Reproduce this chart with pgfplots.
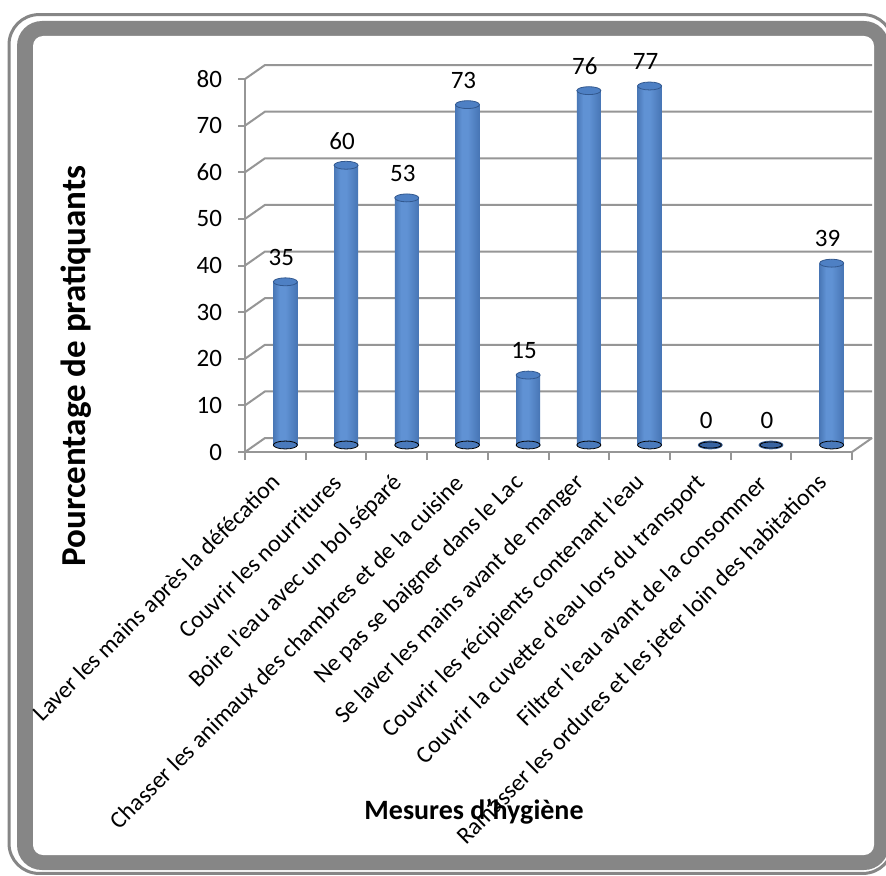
\documentclass[border=0pt]{standalone}
\usepackage{fontspec}
\setmainfont{Carlito}
\usepackage{pgfplots}
\pgfplotsset{compat=1.18}
\definecolor{framegray}{RGB}{134,134,134}
\definecolor{gridgray}{RGB}{150,150,150}
\definecolor{bdark}{RGB}{52,94,154}
\definecolor{blight}{RGB}{96,146,212}
\definecolor{bdark2}{RGB}{58,102,164}
\definecolor{bbase}{RGB}{74,122,188}
\definecolor{btop}{RGB}{78,128,196}
\definecolor{bedge}{RGB}{50,88,142}
\definecolor{bzero}{RGB}{56,100,162}
\pgfdeclarehorizontalshading{cyl}{100bp}{color(0bp)=(bdark); color(12bp)=(bdark); color(38bp)=(blight); color(50bp)=(blight); color(88bp)=(bdark2); color(100bp)=(bdark2)}
\newcommand{\cylbar}[2]{\addplot[ybar, bar width=12pt, draw=none, shading=cyl] coordinates {(#1,#2)};}
\begin{document}
\begin{tikzpicture}[x=1pt,y=1pt]
\useasboundingbox (0,0) rectangle (443,437.5);
\begin{scope}
\clip (0,0) rectangle (443,437.5);
\draw[framegray, line width=1.5pt, rounded corners=15pt] (4.5,0.8) rectangle (446.5,430.2);
\fill[framegray, rounded corners=12.5pt] (8.5,2.5) rectangle (444.5,427);
\fill[white, rounded corners=5pt] (16.5,10) rectangle (437,419.5);
\end{scope}
% front axis with grid decorations
\begin{axis}[
  at={(122.5pt,211.5pt)}, anchor=south west, scale only axis,
  width=303.5pt, height=186.5pt,
  xmin=-0.5, xmax=9.5, ymin=0, ymax=80,
  axis lines*=left, tick pos=left,
  every outer x axis line/.append style={-},
  every outer y axis line/.append style={-},
  axis line style={-, gridgray, line width=1pt},
  tick align=outside,
  ytick={0,10,...,80},
  major tick length=3.5pt, minor tick length=4pt,
  xtick={0,...,9},
  major x tick style={draw=none},
  minor xtick={-0.5,0.5,...,9.5},
  tick style={gridgray, line width=1pt},
  /pgf/number format/assume math mode=true,
  yticklabel style={font=\fontsize{12.5}{14}\selectfont, xshift=-4.5pt},
  xticklabels={Laver les mains après la défécation, Couvrir les nourritures, Boire l'eau avec un bol séparé, Chasser les animaux des chambres et de la cuisine, Ne pas se baigner dans le Lac, Se laver les mains avant de manger, Couvrir les récipients contenant l’eau, Couvrir la cuvette d'eau lors du transport, Filtrer l'eau avant de la consommer, Ramasser les ordures et les jeter loin des habitations},
  xticklabel style={font=\fontsize{12}{14}\selectfont, xshift=1pt, yshift=-10pt, rotate=45, anchor=east, inner sep=0pt},
  clip=false,
]
\pgfplotsinvokeforeach{0,10,...,80}{
  \draw[gridgray, line width=1pt, line join=round] (axis cs:-0.5,#1) -- ([shift={(10pt,7pt)}]axis cs:-0.5,#1) -- ([shift={(10pt,7pt)}]axis cs:9.5,#1);
}
\draw[gridgray, line width=1pt] (axis cs:9.5,0) -- ([shift={(10pt,7pt)}]axis cs:9.5,0);
\end{axis}
% bars axis (mid depth)
\begin{axis}[
  at={(127.5pt,215pt)}, anchor=south west, scale only axis,
  width=303.5pt, height=186.5pt,
  xmin=-0.5, xmax=9.5, ymin=0, ymax=80,
  hide axis, clip=false,
]
\addplot[only marks, mark=*, mark size=6pt, mark options={yscale=0.33, fill=bbase, draw=none}]
  coordinates {(0,0) (1,0) (2,0) (3,0) (4,0) (5,0) (6,0) (9,0)};
\cylbar{0}{35}
\cylbar{1}{60}
\cylbar{2}{53}
\cylbar{3}{73}
\cylbar{4}{15}
\cylbar{5}{76}
\cylbar{6}{77}
\cylbar{9}{39}
\addplot[only marks, mark=*, mark size=6pt, mark options={yscale=0.33, fill=btop, draw=bedge, line width=0.4pt},
  nodes near coords, nodes near coords style={font=\fontsize{12.5}{14}\selectfont, text=black, yshift=4.5pt, xshift=-2pt},
  /pgf/number format/assume math mode=true]
  coordinates {(0,35) (1,60) (2,53) (3,73) (4,15) (5,76) (6,77) (7,0) (8,0) (9,39)};
\addplot[only marks, mark=*, mark size=5.5pt, mark options={yscale=0.28, fill=bzero, draw=none}]
  coordinates {(7,0) (8,0)};
\end{axis}
\node[rotate=90, font=\bfseries\fontsize{17.5}{20}\selectfont] at (38,254.5) {Pourcentage de pratiquants};
\node[font=\bfseries\fontsize{14}{16}\selectfont] at (237,31.5) {Mesures d’hygiène};
\end{tikzpicture}
\end{document}
